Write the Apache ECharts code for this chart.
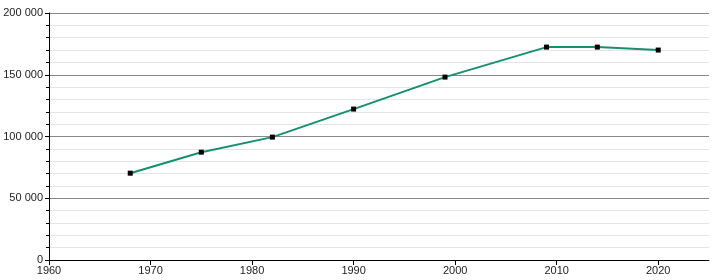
<!DOCTYPE html>
<html><head><meta charset="utf-8">
<script src="https://cdn.jsdelivr.net/npm/echarts@6/dist/echarts.min.js"></script>
<style>html,body{margin:0;padding:0;background:#fff}#c{width:720px;height:280px}</style>
</head><body><div id="c"></div>
<script>
const years = [1968, 1975, 1982, 1990, 1999, 2009, 2014, 2020];
const population = [70300, 87300, 99500, 122200, 148100, 172400, 172400, 170000];
const xTicks = [1960, 1970, 1980, 1990, 2000, 2010, 2020];
const yTicks = [0, 50000, 100000, 150000, 200000];

const chart = echarts.init(document.getElementById('c'), null, {renderer: 'canvas'});
const font = {fontFamily: 'Liberation Sans, Arial, sans-serif', fontSize: 11, color: '#222'};
chart.setOption({
  animation: false,
  grid: {left: 49, right: 11, top: 13, bottom: 20},
  xAxis: {
    type: 'value', min: 1960, max: 2025, interval: 10,
    axisLine: {onZero: false, lineStyle: {color: '#000', width: 1}},
    axisTick: {show: true, length: 5, inside: false, customValues: xTicks, lineStyle: {color: '#000'}},
    axisLabel: Object.assign({customValues: xTicks, margin: 5, formatter: v => String(v)}, font),
    splitLine: {show: false}
  },
  yAxis: {
    type: 'value', min: 0, max: 200000, interval: 50000,
    axisLine: {show: true, lineStyle: {color: '#000', width: 1}},
    axisTick: {show: true, length: 4, lineStyle: {color: '#000'}},
    minorTick: {show: true, splitNumber: 5, length: 3, lineStyle: {color: '#000'}},
    axisLabel: Object.assign({margin: 6, formatter: v => String(v).replace(/\B(?=(\d{3})+(?!\d))/g, ' ')}, font),
    splitLine: {show: true, lineStyle: {color: '#888', width: 1}},
    minorSplitLine: {show: true, lineStyle: {color: '#e4e4e4', width: 1}}
  },
  series: [{
    type: 'line',
    data: years.map((y, i) => [y, population[i]]),
    symbol: 'rect', symbolSize: 5,
    itemStyle: {color: '#000'},
    lineStyle: {color: '#16906c', width: 2},
    z: 3
  }]
});
</script></body></html>
